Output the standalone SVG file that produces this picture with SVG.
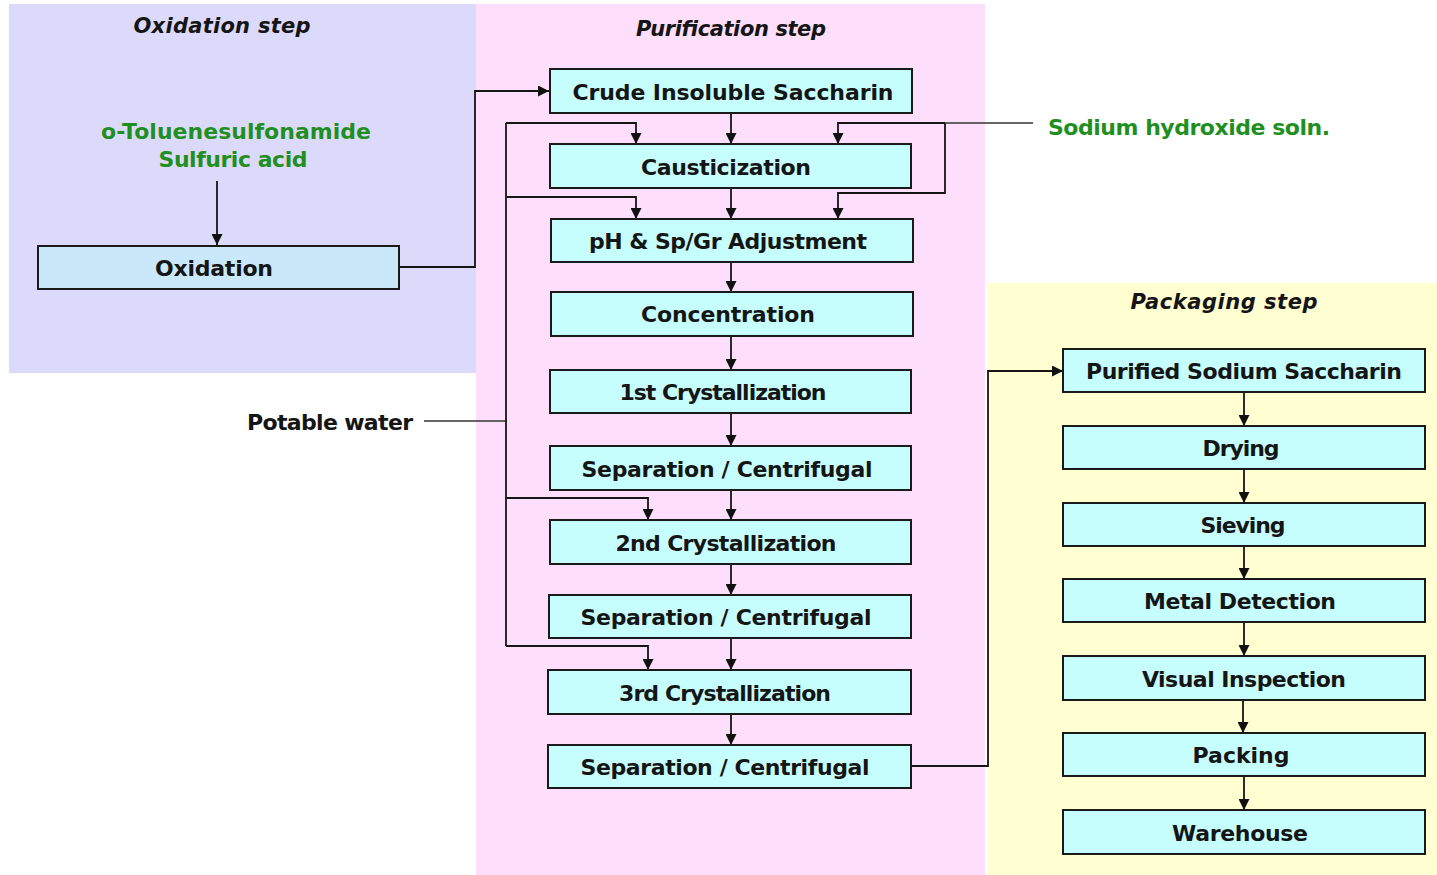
<svg xmlns="http://www.w3.org/2000/svg" width="1437" height="875" viewBox="0 0 1437 875">
<defs>
<marker id="ah" markerUnits="userSpaceOnUse" markerWidth="11" markerHeight="11" viewBox="0 0 10 10" refX="10" refY="5" orient="auto">
<path d="M0,0 L10,5 L0,10 z" fill="#111"/>
</marker>
</defs>
<style>
.box{fill:#c6fdfd;stroke:#1a1a1a;stroke-width:2}
.obox{fill:#c9e9fb;stroke:#1a1a1a;stroke-width:2}
.t{font-family:"DejaVu Sans",sans-serif;font-weight:bold;font-size:22px;fill:#151515;text-anchor:middle}
.ti{font-family:"DejaVu Sans",sans-serif;font-weight:bold;font-style:italic;font-size:21px;fill:#151515;text-anchor:middle}
.g{font-family:"DejaVu Sans",sans-serif;font-weight:bold;font-size:22px;fill:#1f8f1f;text-anchor:middle}
.c{fill:none;stroke:#151515;stroke-width:1.8}
.a{fill:none;stroke:#151515;stroke-width:1.8;marker-end:url(#ah)}
.thin{fill:none;stroke:#333;stroke-width:1.4}
</style>
<rect width="1437" height="875" fill="#ffffff"/>
<g id="regions">
<rect x="9" y="4" width="467" height="369" fill="#dcdafa"/>
<rect x="476" y="4" width="509" height="871" fill="#fddefb"/>
<rect x="987" y="283" width="450" height="592" fill="#ffffd2"/>
<text class="ti" x="222" y="33" textLength="177">Oxidation step</text>
<text class="ti" x="731" y="36" textLength="190">Purification step</text>
<text class="ti" x="1224" y="309" textLength="187">Packaging step</text>
</g>
<g id="connectors">
<path class="a" d="M217,181 V245"/>
<path class="a" d="M399,267 H475 V91 H549"/>
<path class="a" d="M731,113 V144"/>
<path class="a" d="M731,188 V219"/>
<path class="a" d="M731,262 V292"/>
<path class="a" d="M731,336 V370"/>
<path class="a" d="M731,413 V446"/>
<path class="a" d="M731,490 V520"/>
<path class="a" d="M731,564 V595"/>
<path class="a" d="M731,638 V670"/>
<path class="a" d="M731,714 V745"/>
<path class="thin" d="M424,421 H506"/>
<path class="c" d="M506,123 V646"/>
<path class="a" d="M506,123 H636 V144"/>
<path class="a" d="M506,197 H636 V219"/>
<path class="a" d="M506,498 H648 V520"/>
<path class="a" d="M506,646 H648 V670"/>
<path class="thin" d="M1033,123 H945"/>
<path class="a" d="M945,123 H838 V144"/>
<path class="a" d="M945,123 V193 H838 V219"/>
<path class="a" d="M911,766 H988 V371 H1063"/>
<path class="a" d="M1244,393 V426"/>
<path class="a" d="M1244,469 V503"/>
<path class="a" d="M1244,546 V579"/>
<path class="a" d="M1244,622 V656"/>
<path class="a" d="M1243,700 V733"/>
<path class="a" d="M1244,777 V810"/>
</g>
<g id="reagents">
<text class="g" x="236" y="139" textLength="270">o-Toluenesulfonamide</text>
<text class="g" x="233" y="167" textLength="149">Sulfuric acid</text>
</g>
<g id="naoh"><text class="g" x="1189" y="135" textLength="282">Sodium hydroxide soln.</text></g>
<g id="water"><text class="t" x="330" y="430" textLength="166">Potable water</text></g>
<g id="oxidation"><rect class="obox" x="38" y="246" width="361" height="43"/><text class="t" x="214" y="276" textLength="118">Oxidation</text></g>
<g id="crude"><rect class="box" x="550" y="69" width="362" height="44"/><text class="t" x="733" y="100" textLength="321">Crude Insoluble Saccharin</text></g>
<g id="caustic"><rect class="box" x="550" y="144" width="361" height="44"/><text class="t" x="726" y="175" textLength="170">Causticization</text></g>
<g id="ph"><rect class="box" x="551" y="219" width="362" height="43"/><text class="t" x="728" y="249" textLength="278">pH &amp; Sp/Gr Adjustment</text></g>
<g id="conc"><rect class="box" x="551" y="292" width="362" height="44"/><text class="t" x="728" y="322" textLength="174">Concentration</text></g>
<g id="cryst1"><rect class="box" x="550" y="370" width="361" height="43"/><text class="t" x="723" y="400" textLength="207">1st Crystallization</text></g>
<g id="sep1"><rect class="box" x="550" y="446" width="361" height="44"/><text class="t" x="727" y="477" textLength="291">Separation / Centrifugal</text></g>
<g id="cryst2"><rect class="box" x="550" y="520" width="361" height="44"/><text class="t" x="726" y="551" textLength="221">2nd Crystallization</text></g>
<g id="sep2"><rect class="box" x="549" y="595" width="362" height="43"/><text class="t" x="726" y="625" textLength="291">Separation / Centrifugal</text></g>
<g id="cryst3"><rect class="box" x="548" y="670" width="363" height="44"/><text class="t" x="725" y="701" textLength="212">3rd Crystallization</text></g>
<g id="sep3"><rect class="box" x="548" y="745" width="363" height="43"/><text class="t" x="725" y="775" textLength="289">Separation / Centrifugal</text></g>
<g id="purified"><rect class="box" x="1063" y="349" width="362" height="43"/><text class="t" x="1244" y="379" textLength="316">Purified Sodium Saccharin</text></g>
<g id="drying"><rect class="box" x="1063" y="426" width="362" height="43"/><text class="t" x="1241" y="456" textLength="77">Drying</text></g>
<g id="sieving"><rect class="box" x="1063" y="503" width="362" height="43"/><text class="t" x="1243" y="533" textLength="85">Sieving</text></g>
<g id="metal"><rect class="box" x="1063" y="579" width="362" height="43"/><text class="t" x="1240" y="609" textLength="192">Metal Detection</text></g>
<g id="visual"><rect class="box" x="1063" y="656" width="362" height="44"/><text class="t" x="1244" y="687" textLength="204">Visual Inspection</text></g>
<g id="packing"><rect class="box" x="1063" y="733" width="362" height="43"/><text class="t" x="1241" y="763" textLength="97">Packing</text></g>
<g id="warehouse"><rect class="box" x="1063" y="810" width="362" height="44"/><text class="t" x="1240" y="841" textLength="136">Warehouse</text></g>
</svg>
